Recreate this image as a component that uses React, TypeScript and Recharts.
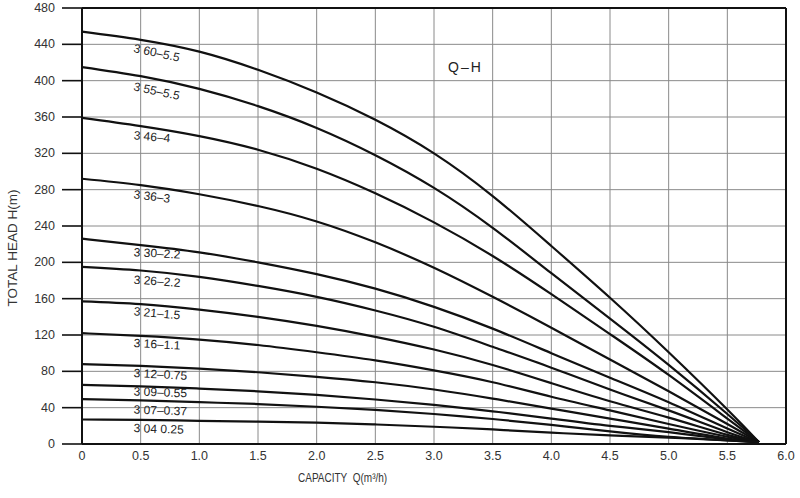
import React from 'react';
import { LineChart, Line, XAxis, YAxis, CartesianGrid, ReferenceLine } from 'recharts';

// Capacity Q (m³/h)
const Q = [0, 0.5, 1, 1.5, 2, 2.5, 3, 3.5, 4, 4.5, 5, 5.5, 5.77];

// Total head H (m) per pump model
const H_3_60 = [454, 445, 432, 412, 387, 357, 320, 273, 218, 161, 101, 38, 2];
const H_3_55 = [415, 405, 391, 372, 348, 318, 282, 238, 188, 138, 87, 33, 2];
const H_3_46 = [359, 350, 339, 324, 303, 276, 244, 207, 165, 121, 76, 28, 2];
const H_3_36 = [292, 285, 275, 262, 245, 222, 194, 162, 128, 93, 58, 22, 2];
const H_3_30 = [226, 219, 211, 200, 187, 171, 151, 127, 100, 73, 46, 17, 2];
const H_3_26 = [195, 191, 184, 174, 162, 147, 129, 107, 84, 60, 37, 13, 2];
const H_3_21 = [157, 154, 148, 140, 130, 118, 104, 87, 67, 47, 29, 10, 2];
const H_3_16 = [122, 119, 115, 109, 101, 92, 81, 68, 52, 37, 22, 8, 2];
const H_3_12 = [88, 86, 83, 79, 74, 68, 60, 50, 39, 28, 17, 6, 2];
const H_3_09 = [65, 63.5, 61, 58, 54, 49, 43, 36, 28, 20, 13, 5, 2];
const H_3_07 = [49.5, 48, 46, 44, 41, 37.5, 33, 27.5, 21, 14, 8, 4, 2];
const H_3_04 = [27, 26.5, 25.5, 24.6, 23.5, 21.5, 19, 16, 12.5, 9.5, 7, 4, 2];

const LABELS = ['3 60–5.5', '3 55–5.5', '3 46–4', '3 36–3', '3 30–2.2', '3 26–2.2', '3 21–1.5', '3 16–1.1', '3 12–0.75', '3 09–0.55', '3 07–0.37', '3 04  0.25'];
const VALUES = [H_3_60, H_3_55, H_3_46, H_3_36, H_3_30, H_3_26, H_3_21, H_3_16, H_3_12, H_3_09, H_3_07, H_3_04];

const X_TICKS = [0, 0.5, 1, 1.5, 2, 2.5, 3, 3.5, 4, 4.5, 5, 5.5, 6];
const Y_TICKS = [0, 40, 80, 120, 160, 200, 240, 280, 320, 360, 400, 440, 480];

// label placement styling (offset below curve, tilt)
const LABEL_STYLE = [
  { dy: 9, angle: 12 },
  { dy: 11, angle: 12 },
  { dy: 10, angle: 5 },
  { dy: 10, angle: 7 },
  { dy: 8, angle: 3 },
  { dy: 10, angle: 4 },
  { dy: 8, angle: 5 },
  { dy: 8, angle: 3 },
  { dy: 8, angle: 3 },
  { dy: 6, angle: 2 },
  { dy: 10, angle: 2 },
  { dy: 9, angle: 2 },
];

const SERIES = LABELS.map((label, i) => ({ key: 's' + i, label, values: VALUES[i] }));

const data = Q.map((q, i) => {
  const row: any = { q };
  SERIES.forEach((s) => {
    row[s.key] = s.values[i];
  });
  return row;
});

const FONT = '"Liberation Sans", Arial, sans-serif';

const YTick = (p: any) => (
  <text
    x={p.x}
    y={p.y}
    textAnchor="end"
    dominantBaseline="central"
    fontSize={12.5}
    fontFamily={FONT}
    fill="#333"
  >
    {p.payload.value}
  </text>
);

export default function App() {
  return (
    <div style={{ position: 'absolute', left: 0, top: 0, width: 800, height: 498, background: '#fff' }}>
      <LineChart
        width={800}
        height={498}
        data={data}
        margin={{ top: 8, right: 14, bottom: 24, left: 0 }}
      >
        <CartesianGrid stroke="#8a8a8a" strokeWidth={1} vertical horizontal />
        <XAxis
          dataKey="q"
          type="number"
          domain={[0, 6]}
          ticks={X_TICKS}
          interval={0}
          height={30}
          tickFormatter={(v: number) => (v === 0 ? '0' : v.toFixed(1))}
          axisLine={{ stroke: '#111', strokeWidth: 2 }}
          tickLine={false}
          tickSize={0}
          tickMargin={7}
          tick={{ fontSize: 12.5, fill: '#333', fontFamily: FONT }}
        />
        <YAxis
          type="number"
          domain={[0, 480]}
          ticks={Y_TICKS}
          interval={0}
          width={82}
          axisLine={{ stroke: '#111', strokeWidth: 2 }}
          tickLine={{ stroke: '#111', strokeWidth: 1.6 }}
          tickSize={20}
          tickMargin={7}
          tick={<YTick />}
        />
        <ReferenceLine y={480} stroke="#111" strokeWidth={2} />
        <ReferenceLine x={6} stroke="#111" strokeWidth={2} />
        {SERIES.map((s, i) => (
          <Line
            key={s.key}
            dataKey={s.key}
            type="natural"
            stroke="#111"
            strokeWidth={2.2}
            dot={false}
            activeDot={false}
            isAnimationActive={false}
            label={(p: any) => {
              if (p.index !== 1) return <g key={s.key + '-l' + p.index} />;
              const st = LABEL_STYLE[i];
              const x = p.x - 7;
              const y = p.y + st.dy;
              return (
                <text
                  key={s.key + '-label'}
                  x={x}
                  y={y}
                  fontSize={12}
                  fontFamily={FONT}
                  fill="#222"
                  dominantBaseline="middle"
                  transform={`rotate(${st.angle} ${x} ${y})`}
                >
                  {s.label}
                </text>
              );
            }}
          />
        ))}
      </LineChart>
      <div
        style={{
          position: 'absolute',
          left: 448,
          top: 59,
          fontFamily: FONT,
          fontSize: 14,
          letterSpacing: 2,
          color: '#222',
          whiteSpace: 'nowrap',
        }}
      >
        Q–H
      </div>
      <div
        style={{
          position: 'absolute',
          left: 298,
          top: 470,
          fontFamily: FONT,
          fontSize: 13.5,
          color: '#333',
          whiteSpace: 'nowrap',
          transform: 'scaleX(0.74)',
          transformOrigin: 'left center',
        }}
      >
        CAPACITY&nbsp; Q(m³/h)
      </div>
      <div
        style={{
          position: 'absolute',
          left: 12,
          top: 248,
          transform: 'translate(-50%, -50%) rotate(-90deg)',
          fontFamily: FONT,
          fontSize: 13.5,
          color: '#333',
          whiteSpace: 'nowrap',
        }}
      >
        TOTAL HEAD H(m)
      </div>
    </div>
  );
}
